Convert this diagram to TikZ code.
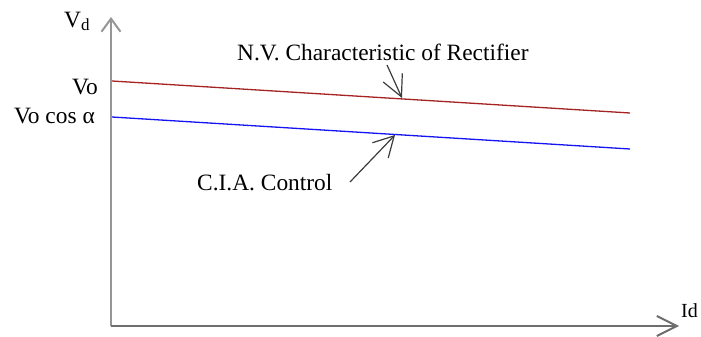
\documentclass[tikz,border=0pt]{standalone}
\usepackage{fontspec}
\setmainfont{Liberation Serif}
\usetikzlibrary{arrows.meta}
\definecolor{curvered}{RGB}{165,35,35}
\definecolor{curveblue}{RGB}{20,20,245}
\definecolor{yaxisgray}{RGB}{150,150,150}
\definecolor{xaxisgray}{RGB}{110,110,110}
\definecolor{pointer}{RGB}{60,60,60}
\begin{document}
\begin{tikzpicture}[x=1pt,y=-1pt,
  lbl/.style={inner sep=0pt, font=\fontsize{23.4}{28}\selectfont},
  axisline/.style={line width=2pt},
  curve/.style={line width=1.3pt},
  pointerline/.style={pointer, line width=1.2pt}]
\useasboundingbox (0,0) rectangle (701,337);
% axes
\coordinate (origin) at (111,326);
\coordinate (ytip) at (111,17);
\coordinate (xtip) at (679,326);
\draw[axisline, yaxisgray, -{Straight Barb[length=13pt,width=19pt]}] (origin) -- (ytip);
\draw[axisline, xaxisgray, -{Straight Barb[length=20pt,width=20pt]}] (origin) -- (xtip);
% curves
\coordinate (r1) at (112,81);
\coordinate (r2) at (630,113);
\coordinate (b1) at (112,117);
\coordinate (b2) at (630,149);
\draw[curve, curvered] (r1) -- (r2);
\draw[curve, curveblue] (b1) -- (b2);
% labels
\node[lbl, anchor=base west] (vd) at (64,28) {V\raisebox{-2pt}{\fontsize{17}{17}\selectfont d}};
\node[lbl, anchor=base east] (vo) at (98,94) {Vo};
\node[lbl, anchor=base east] (vocos) at (95,123) {Vo cos α};
\node[inner sep=0pt, font=\fontsize{20}{24}\selectfont, anchor=base west] (id) at (681,317) {Id};
\node[lbl, anchor=base west] (nv) at (237,60) {N.V. Characteristic of Rectifier};
\node[lbl, anchor=base west] (cia) at (197,190) {C.I.A. Control};
% pointers
\coordinate (nvstart) at (387,65);
\coordinate (nvtip) at (402,98);
\coordinate (ciastart) at (350,182);
\coordinate (ciatip) at (395,135);
\draw[pointerline, -{Straight Barb[length=21pt,width=21pt]}] (nvstart) -- (nvtip);
\draw[pointerline, -{Straight Barb[length=20pt,width=22pt]}] (ciastart) -- (ciatip);
\end{tikzpicture}
\end{document}
